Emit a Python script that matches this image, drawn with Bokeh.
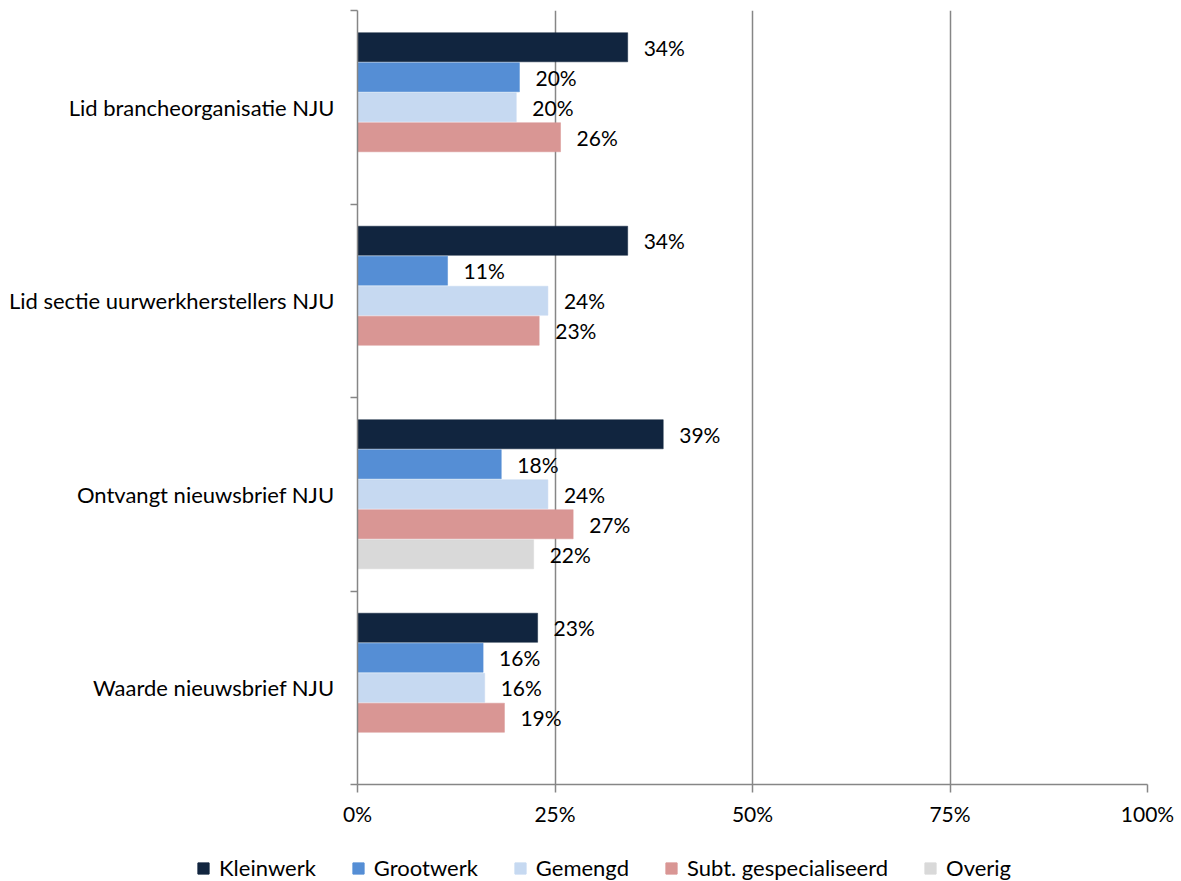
from bokeh.plotting import figure
from bokeh.layouts import column
from bokeh.models import Range1d, FixedTicker, NumeralTickFormatter, Legend, LegendItem, ColumnDataSource
from bokeh.transform import dodge
from bokeh.core.properties import value
from bokeh.embed import file_html
from bokeh.resources import INLINE

categories = ["Lid brancheorganisatie NJU", "Lid sectie uurwerkherstellers NJU",
              "Ontvangt nieuwsbrief NJU", "Waarde nieuwsbrief NJU"]
series = ["Kleinwerk", "Grootwerk", "Gemengd", "Subt. gespecialiseerd", "Overig"]
kleinwerk = [0.342, 0.342, 0.387, 0.228]
grootwerk = [0.205, 0.114, 0.182, 0.159]
gemengd = [0.201, 0.241, 0.241, 0.161]
subt = [0.257, 0.230, 0.273, 0.186]
overig = [None, None, 0.223, None]
x_ticks = [0, 0.25, 0.5, 0.75, 1.0]

colors = ["#11253F", "#558ED5", "#C6D9F1", "#D99694", "#D9D9D9"]
FONT = "Lato"
FS = "21px"
GRAY = "#868686"

p = figure(width=1181, height=845, output_backend="svg", toolbar_location=None,
           x_range=Range1d(0, 1), y_range=Range1d(len(categories), 0),
           min_border_left=357, min_border_right=34, min_border_top=10, min_border_bottom=61)
p.outline_line_color = None
p.background_fill_color = "white"
p.frame_align = False

# legend-only figure below the chart
lf = figure(width=1181, height=36, output_backend="svg", toolbar_location=None,
            x_range=Range1d(0, 1), y_range=Range1d(0, 1),
            x_axis_location=None, y_axis_location=None, min_border=0)
lf.outline_line_color = None
lf.grid.visible = False
lf.frame_align = False

all_vals = [kleinwerk, grootwerk, gemengd, subt, overig]
n = len(series)
slot = 0.155
legend_renderers = []
for k, (name, vals, col) in enumerate(zip(series, all_vals, colors)):
    pos = [i + 0.5 for i, v in enumerate(vals) if v is not None]
    vv = [v for v in vals if v is not None]
    labels = [f"{round(v * 100)}%" for v in vv]
    src = ColumnDataSource(dict(pos=pos, val=vv, label=labels))
    off = (k - (n - 1) / 2) * slot
    p.hbar(y=dodge("pos", off, range=p.y_range), left=0, right="val", height=slot * 0.97,
           source=src, fill_color=col, line_color=col, line_width=0.5)
    p.text(x="val", y=dodge("pos", off, range=p.y_range), text="label", source=src,
           x_offset=16, y_offset=0, text_align="left", text_baseline="middle",
           text_font=value(FONT), text_font_size=FS, text_color="black")
    lr = lf.hbar(y="pos", left=0, right="val", height=slot, source=src,
                 fill_color=col, line_color=col, visible=False)
    legend_renderers.append(lr)

# x axis
xa = p.xaxis[0]
xa.ticker = FixedTicker(ticks=x_ticks, minor_ticks=[])
xa.formatter = NumeralTickFormatter(format="0%")
xa.axis_line_color = GRAY
xa.axis_line_width = 1.5
xa.major_tick_line_color = GRAY
xa.major_tick_line_width = 1.5
xa.major_tick_out = 8
xa.major_tick_in = 0
xa.major_label_standoff = 8
xa.major_label_text_font = FONT
xa.major_label_text_font_size = FS
xa.major_label_text_color = "black"

# y axis
ya = p.yaxis[0]
ya.ticker = FixedTicker(ticks=[i + 0.5 for i in range(len(categories))],
                        minor_ticks=list(range(len(categories) + 1)))
ya.major_label_overrides = {i + 0.5: c for i, c in enumerate(categories)}
ya.axis_line_color = GRAY
ya.axis_line_width = 1.5
ya.major_tick_out = 0
ya.major_tick_in = 0
ya.minor_tick_out = 7
ya.minor_tick_in = 0
ya.minor_tick_line_color = GRAY
ya.minor_tick_line_width = 1.5
ya.major_label_standoff = 16
ya.major_label_text_font = FONT
ya.major_label_text_font_size = "22px"
ya.major_label_text_color = "black"

p.ygrid.grid_line_color = None
p.xgrid.ticker = FixedTicker(ticks=x_ticks[1:], minor_ticks=[])
p.xgrid.grid_line_color = GRAY
p.xgrid.grid_line_width = 1.5

legend = Legend(items=[LegendItem(label=s, renderers=[r]) for s, r in zip(series, legend_renderers)],
                orientation="horizontal", location=(196, 0), click_policy="none",
                glyph_width=14, glyph_height=14, label_standoff=9, spacing=35,
                label_text_font=FONT, label_text_font_size="22px", label_text_color="black",
                border_line_color=None, background_fill_alpha=0, padding=0, margin=0)
lf.add_layout(legend)

layout = column(p, lf, spacing=0)
open("out.html", "w").write(file_html(layout, INLINE))
